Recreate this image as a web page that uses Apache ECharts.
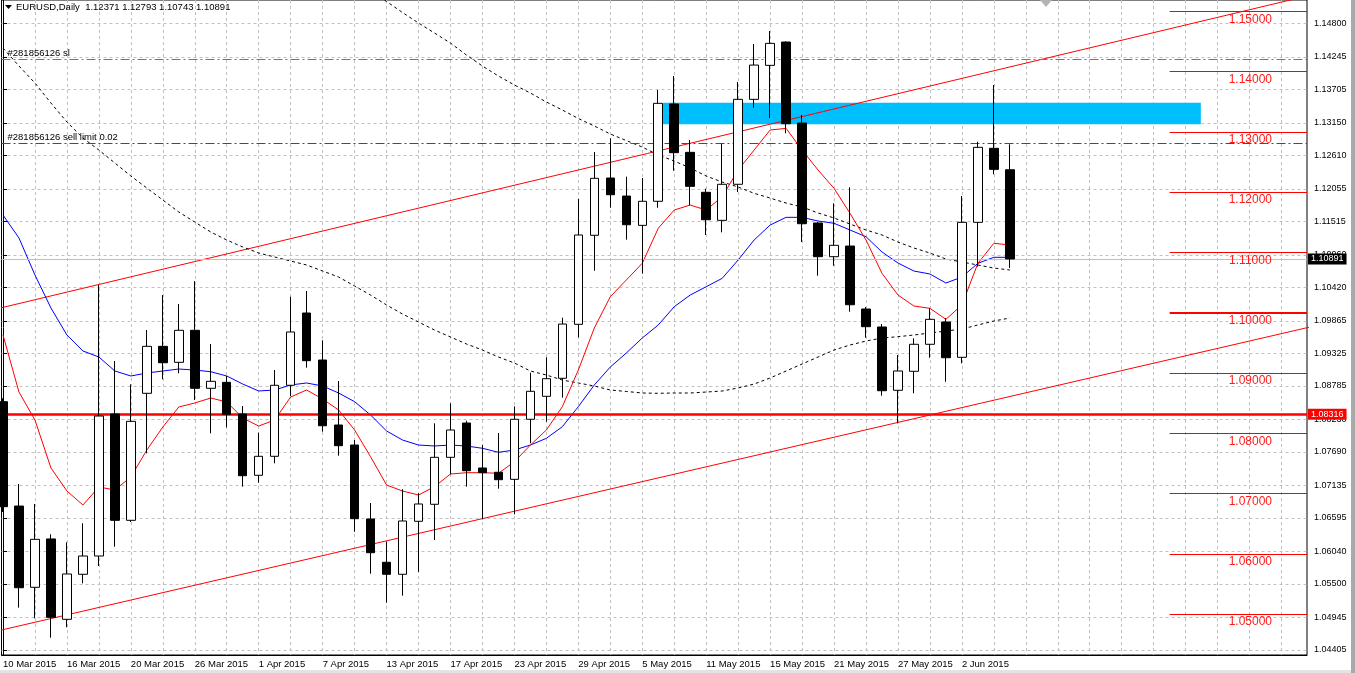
<!DOCTYPE html>
<html>
<head>
<meta charset="utf-8">
<title>EURUSD, Daily</title>
<script src="https://cdn.jsdelivr.net/npm/echarts@6/dist/echarts.min.js"></script>
<style>
    html, body { margin: 0; padding: 0; background: #fff; }
    #eurusd_daily { width: 1355px; height: 673px; }
</style>
</head>
<body>
<div id="eurusd_daily"></div>
<script>
/* ------------------------------------------------------------------------------
 *
 *  # EURUSD daily candles with moving averages, channel and levels
 *
 * ---------------------------------------------------------------------------- */


// Chart data
// ------------------------------

var dates = [
    '10 Mar 2015','11 Mar 2015','12 Mar 2015','13 Mar 2015','16 Mar 2015','17 Mar 2015','18 Mar 2015','19 Mar 2015',
    '20 Mar 2015','23 Mar 2015','24 Mar 2015','25 Mar 2015','26 Mar 2015','27 Mar 2015','30 Mar 2015','31 Mar 2015',
    '1 Apr 2015','2 Apr 2015','3 Apr 2015','6 Apr 2015','7 Apr 2015','8 Apr 2015','9 Apr 2015','10 Apr 2015',
    '13 Apr 2015','14 Apr 2015','15 Apr 2015','16 Apr 2015','17 Apr 2015','20 Apr 2015','21 Apr 2015','22 Apr 2015',
    '23 Apr 2015','24 Apr 2015','27 Apr 2015','28 Apr 2015','29 Apr 2015','30 Apr 2015','1 May 2015','4 May 2015',
    '5 May 2015','6 May 2015','7 May 2015','8 May 2015','11 May 2015','12 May 2015','13 May 2015','14 May 2015',
    '15 May 2015','18 May 2015','19 May 2015','20 May 2015','21 May 2015','22 May 2015','25 May 2015','26 May 2015',
    '27 May 2015','28 May 2015','29 May 2015','1 Jun 2015','2 Jun 2015','3 Jun 2015','4 Jun 2015','5 Jun 2015'
];

var opens = [
    1.08524,1.06793,1.05445,1.06247,1.04914,1.05661,1.05964,1.08320,
    1.06556,1.08663,1.09442,1.09177,1.09708,1.08746,1.08845,1.08320,
    1.07303,1.07618,1.08796,1.09995,1.09215,1.08137,1.07805,1.06578,
    1.05860,1.05661,1.06540,1.06822,1.07601,1.08170,1.07424,1.07353,
    1.07236,1.08232,1.08613,1.08912,1.09807,1.11284,1.12234,1.11935,
    1.11449,1.11848,1.13462,1.12660,1.11997,1.11532,1.12130,1.13539,
    1.14103,1.14490,1.13146,1.11488,1.10929,1.11106,1.10061,1.09763,
    1.08713,1.09028,1.09476,1.09846,1.09260,1.11499,1.12727,1.12371
];

var closes = [
    1.06782,1.05438,1.06241,1.04947,1.05666,1.05964,1.08286,1.06556,
    1.08198,1.09442,1.09170,1.09708,1.08746,1.08862,1.08315,1.07296,
    1.07618,1.08796,1.09680,1.09204,1.08125,1.07794,1.06583,1.06019,
    1.05661,1.06545,1.06827,1.07601,1.08054,1.07379,1.07346,1.07230,
    1.08232,1.08696,1.08905,1.09812,1.11289,1.12229,1.11957,1.11459,
    1.11848,1.13473,1.12654,1.12096,1.11542,1.12130,1.13539,1.14108,
    1.14468,1.13135,1.11476,1.10929,1.11118,1.10132,1.09768,1.08706,
    1.09033,1.09476,1.09890,1.09253,1.11499,1.12743,1.12378,1.10891
];

var lows = [
    1.06694,1.05107,1.04931,1.04609,1.04782,1.05511,1.05798,1.06118,
    1.06528,1.07668,1.08895,1.08995,1.08552,1.07999,1.08099,1.07114,
    1.07180,1.07502,1.08618,1.09088,1.08026,1.07628,1.06367,1.05671,
    1.05190,1.05306,1.05699,1.06230,1.07319,1.07114,1.06573,1.07080,
    1.06656,1.07834,1.08192,1.08590,1.09592,1.10696,1.11741,1.11211,
    1.10647,1.11741,1.12355,1.11781,1.11289,1.11333,1.12002,1.13400,
    1.13229,1.12976,1.11172,1.10614,1.10779,1.10016,1.09585,1.08623,
    1.08165,1.08663,1.09253,1.08855,1.09160,1.10763,1.12295,1.10743
];

var highs = [
    1.08580,1.07158,1.06827,1.06324,1.06191,1.06507,1.10459,1.09199,
    1.08812,1.09713,1.10293,1.10144,1.10526,1.09481,1.08950,1.08452,
    1.08009,1.09049,1.10265,1.10360,1.09542,1.08867,1.07888,1.06843,
    1.06201,1.07071,1.07004,1.08165,1.08497,1.08208,1.07805,1.08004,
    1.08447,1.09005,1.09260,1.09917,1.11886,1.12665,1.12893,1.12256,
    1.12234,1.13694,1.13926,1.12864,1.12057,1.12803,1.13826,1.14457,
    1.14672,1.14500,1.13279,1.11504,1.11814,1.12080,1.10094,1.09812,
    1.09298,1.09575,1.10073,1.09912,1.11935,1.12836,1.13777,1.12793
];

// Moving averages (red fast, blue medium, two dotted slow ones)
var maFast = [
    1.09630,1.08684,1.08220,1.07424,1.07042,1.06810,1.07109,1.07059,
    1.07275,1.07722,1.08104,1.08436,1.08502,1.08585,1.08519,1.08253,
    1.08120,1.08220,1.08602,1.08718,1.08568,1.08386,1.08054,1.07611,
    1.07142,1.07042,1.06976,1.07114,1.07324,1.07346,1.07346,1.07336,
    1.07528,1.07805,1.08054,1.08441,1.09049,1.09746,1.10265,1.10542,
    1.10819,1.11400,1.11703,1.11786,1.11703,1.11924,1.12367,1.12698,
    1.13030,1.13058,1.12698,1.12367,1.12063,1.11649,1.11206,1.10653,
    1.10293,1.10111,1.10073,1.09890,1.10128,1.10819,1.11151,1.11123
];

var maMedium = [
    1.11620,1.11239,1.10625,1.10078,1.09630,1.09365,1.09265,1.09033,
    1.08950,1.09000,1.09033,1.09066,1.09049,1.09021,1.08950,1.08817,
    1.08701,1.08718,1.08801,1.08834,1.08784,1.08668,1.08524,1.08303,
    1.08038,1.07888,1.07805,1.07789,1.07805,1.07789,1.07751,1.07684,
    1.07722,1.07805,1.07916,1.08109,1.08441,1.08801,1.09099,1.09331,
    1.09580,1.09796,1.10099,1.10293,1.10431,1.10570,1.10874,1.11206,
    1.11454,1.11582,1.11582,1.11521,1.11483,1.11372,1.11260,1.11007,
    1.10824,1.10691,1.10642,1.10492,1.10592,1.10819,1.10919,1.10919
];

var maSlow = [
    1.14390,1.14092,1.13810,1.13478,1.13163,1.12898,1.12698,1.12483,
    1.12267,1.12068,1.11869,1.11670,1.11504,1.11338,1.11206,1.11090,
    1.10990,1.10924,1.10857,1.10791,1.10691,1.10592,1.10443,1.10293,
    1.10128,1.09978,1.09846,1.09713,1.09597,1.09481,1.09381,1.09265,
    1.09165,1.09033,1.08966,1.08883,1.08834,1.08784,1.08718,1.08693,
    1.08668,1.08663,1.08668,1.08668,1.08684,1.08701,1.08751,1.08817,
    1.08917,1.09033,1.09149,1.09265,1.09381,1.09464,1.09530,1.09580,
    1.09602,1.09630,1.09663,1.09696,1.09729,1.09796,1.09862,1.09912
];

var maLong = [
    null,null,null,null,null,null,null,null,
    null,null,null,null,null,null,null,null,
    null,null,null,null,null,null,1.15518,1.15336,
    1.15162,1.14979,1.14805,1.14639,1.14473,1.14274,1.14092,1.13926,
    1.13777,1.13644,1.13495,1.13362,1.13221,1.13097,1.12964,1.12856,
    1.12748,1.12616,1.12516,1.12400,1.12267,1.12168,1.12085,1.11980,
    1.11902,1.11819,1.11753,1.11654,1.11571,1.11471,1.11372,1.11289,
    1.11172,1.11073,1.10990,1.10890,1.10841,1.10791,1.10741,1.10708
];

// Channel lines (bar index, price at both ends)
var channelBars = [-1, 82];
var upperChannel = [1.10025, 1.15279];
var lowerChannel = [1.04681, 1.09776];

// Round levels drawn on the right side
var roundLevels = [1.15, 1.14, 1.13, 1.12, 1.11, 1.10, 1.09, 1.08, 1.07, 1.06, 1.05];
var levelStartBar = 73;

// Supply zone rectangle
var zoneBars = [41.3, 74.95];
var zonePrices = [1.13483, 1.13125];

// Horizontal lines
var supportPrice = 1.08316;
var bidPrice = 1.10891;
var stopLossPrice = 1.14203;
var sellLimitPrice = 1.12810;

// Axis ticks
var priceTicks = [
    1.14800, 1.14245, 1.13705, 1.13150, 1.12610, 1.12055, 1.11515, 1.10960, 1.10420, 1.09865,
    1.09325, 1.08785, 1.08230, 1.07690, 1.07135, 1.06595, 1.06040, 1.05500, 1.04945, 1.04405
];
var dateLabelBars = [0, 4, 8, 12, 16, 20, 24, 28, 32, 36, 40, 44, 48, 52, 56, 60];
var gridBars = [0, 2, 4, 6, 8, 10, 12, 14, 16, 18, 20, 22, 24, 26, 28, 30, 32, 34, 36, 38,
    40, 42, 44, 46, 48, 50, 52, 54, 56, 58, 60, 62, 64, 66, 68, 70, 72, 74, 76, 78, 80];


// Setup module
// ------------------------------

var EchartsEurusdDaily = function() {

    var _eurusdDailyChart = function() {
        if (typeof echarts == 'undefined') {
            console.warn('Warning - echarts.min.js is not loaded.');
            return;
        }

        var chart_element = document.getElementById('eurusd_daily');
        if (!chart_element) return;

        var chart = echarts.init(chart_element);

        var fontFamily = '"Liberation Sans", Arial, sans-serif';

        // x range: bar 0 sits 1.5px from the left edge, 16px per bar
        var xMin = -0.09375;
        var xMax = 81.59375;

        var pairs = function(values) {
            return values.map(function(v, i) { return [i, v]; });
        };

        var candleData = dates.map(function(d, i) {
            return [i, opens[i], closes[i], lows[i], highs[i]];
        });

        // Level segments with their price label underneath
        var levelLines = roundLevels.map(function(level) {
            return [
                {
                    coord: [levelStartBar, level],
                    lineStyle: { color: '#ff0000', width: level === 1.10 ? 2 : 1, type: 'solid' },
                    label: {
                        show: true,
                        position: 'insideMiddleBottom',
                        formatter: level.toFixed(5),
                        color: '#ff1a1a',
                        fontSize: 12,
                        fontFamily: fontFamily,
                        distance: 2,
                        padding: [0, 0, 0, 24]
                    }
                },
                { coord: [xMax, level] }
            ];
        });

        var priceBox = function(text, bg) {
            return {
                show: true,
                position: 'end',
                formatter: text,
                color: '#fff',
                backgroundColor: bg,
                fontSize: 9,
                fontFamily: fontFamily,
                padding: [1, 3, 1, 3],
                distance: 1
            };
        };

        var orderLabel = function(text) {
            return {
                show: true,
                position: 'insideStartTop',
                formatter: text,
                color: '#000',
                fontSize: 9.5,
                fontFamily: fontFamily,
                distance: 1,
                padding: [0, 0, 0, 5]
            };
        };

        var markLines = levelLines.concat([
            {
                yAxis: stopLossPrice,
                lineStyle: { color: '#ff4500', width: 1, type: [9, 3, 2, 3] },
                label: orderLabel('#281856126 sl')
            },
            {
                yAxis: sellLimitPrice,
                lineStyle: { color: '#008000', width: 1, type: [9, 3, 2, 3] },
                label: orderLabel('#281856126 sell limit 0.02')
            },
            {
                yAxis: bidPrice,
                lineStyle: { color: '#c0c0c0', width: 1, type: 'solid' },
                label: priceBox(bidPrice.toFixed(5), '#000')
            },
            {
                yAxis: supportPrice,
                lineStyle: { color: '#ff0000', width: 2.5, type: 'solid' },
                label: priceBox(supportPrice.toFixed(5), '#ff0000')
            }
        ]);

        chart.setOption({
            animation: false,
            backgroundColor: '#fff',
            textStyle: { fontFamily: fontFamily },

            title: {
                text: 'EURUSD,Daily  1.12371 1.12793 1.10743 1.10891',
                left: 16,
                top: 2,
                padding: 0,
                textStyle: { fontSize: 9.5, fontWeight: 'normal', color: '#000', fontFamily: fontFamily }
            },

            grid: {
                left: 0,
                right: 48,
                top: 0,
                bottom: 18,
                show: true,
                backgroundColor: '#fff',
                borderColor: '#000',
                borderWidth: 1
            },

            xAxis: {
                type: 'value',
                min: xMin,
                max: xMax,
                axisLine: { show: true, lineStyle: { color: '#000', width: 1 } },
                axisTick: { show: false, customValues: gridBars },
                axisLabel: {
                    customValues: dateLabelBars,
                    formatter: function(v) { return dates[Math.round(v)] || ''; },
                    align: 'left',
                    color: '#000',
                    fontSize: 9.5,
                    fontFamily: fontFamily,
                    margin: 4
                },
                splitLine: { show: true, lineStyle: { color: '#c0c0c0', width: 1, type: [3, 3] } }
            },

            yAxis: {
                type: 'value',
                position: 'right',
                min: 1.04322,
                max: 1.15187,
                axisLine: { show: true, lineStyle: { color: '#000', width: 1 } },
                axisTick: { show: true, length: 4, customValues: priceTicks, lineStyle: { color: '#000' } },
                axisLabel: {
                    customValues: priceTicks,
                    formatter: function(v) { return v.toFixed(5); },
                    color: '#000',
                    fontSize: 9,
                    fontFamily: fontFamily,
                    margin: 7
                },
                splitLine: { show: true, lineStyle: { color: '#c0c0c0', width: 1, type: [3, 3] } }
            },

            series: [
                // Upper channel line, also carries the zone and horizontal lines
                {
                    name: 'Upper channel',
                    type: 'line',
                    z: 3,
                    symbol: 'none',
                    silent: true,
                    data: channelBars.map(function(b, i) { return [b, upperChannel[i]]; }),
                    lineStyle: { color: '#ff0000', width: 1 },
                    markArea: {
                        silent: true,
                        z: 1,
                        itemStyle: { color: '#00bfff', opacity: 1 },
                        data: [[
                            { coord: [zoneBars[0], zonePrices[0]] },
                            { coord: [zoneBars[1], zonePrices[1]] }
                        ]]
                    },
                    markLine: {
                        silent: true,
                        z: 4,
                        precision: 5,
                        symbol: ['none', 'none'],
                        data: markLines
                    }
                },
                {
                    name: 'Lower channel',
                    type: 'line',
                    z: 3,
                    symbol: 'none',
                    silent: true,
                    data: channelBars.map(function(b, i) { return [b, lowerChannel[i]]; }),
                    lineStyle: { color: '#ff0000', width: 1 }
                },
                {
                    name: 'MA slow',
                    type: 'line',
                    z: 3,
                    symbol: 'none',
                    data: pairs(maSlow),
                    lineStyle: { color: '#000', width: 1, type: [3, 3] }
                },
                {
                    name: 'MA long',
                    type: 'line',
                    z: 3,
                    symbol: 'none',
                    data: pairs(maLong),
                    lineStyle: { color: '#000', width: 1, type: [3, 3] }
                },
                {
                    name: 'MA medium',
                    type: 'line',
                    z: 3,
                    symbol: 'none',
                    data: pairs(maMedium),
                    lineStyle: { color: '#0000ff', width: 1 }
                },
                {
                    name: 'MA fast',
                    type: 'line',
                    z: 3,
                    symbol: 'none',
                    data: pairs(maFast),
                    lineStyle: { color: '#ff0000', width: 1 }
                },
                // Candles on foreground
                {
                    name: 'EURUSD',
                    type: 'candlestick',
                    z: 10,
                    barWidth: 9,
                    data: candleData,
                    itemStyle: {
                        color: '#ffffff',
                        color0: '#000000',
                        borderColor: '#000000',
                        borderColor0: '#000000',
                        borderWidth: 1
                    }
                }
            ],

            graphic: [
                {
                    type: 'polygon',
                    z: 100,
                    shape: { points: [[5, 5], [12, 5], [8.5, 9]] },
                    style: { fill: '#000' }
                },
                {
                    type: 'polygon',
                    z: 100,
                    shape: { points: [[1040, 0], [1052, 0], [1046, 7]] },
                    style: { fill: '#b4b4b4' }
                },
                {
                    type: 'rect',
                    z: 100,
                    shape: { x: 1351, y: 0, width: 4, height: 673 },
                    style: { fill: '#a9a9a9' }
                },
                {
                    type: 'rect',
                    z: 100,
                    shape: { x: 0, y: 670, width: 1351, height: 3 },
                    style: { fill: '#e3e3e3' }
                }
            ]
        });

        // Resize
        var resizeCharts;
        window.addEventListener('resize', function() {
            clearTimeout(resizeCharts);
            resizeCharts = setTimeout(function () {
                chart.resize();
            }, 200);
        });
    };

    return {
        init: function() {
            _eurusdDailyChart();
        }
    }
}();


// Initialize module
// ------------------------------

document.addEventListener('DOMContentLoaded', function() {
    EchartsEurusdDaily.init();
});
</script>
</body>
</html>
